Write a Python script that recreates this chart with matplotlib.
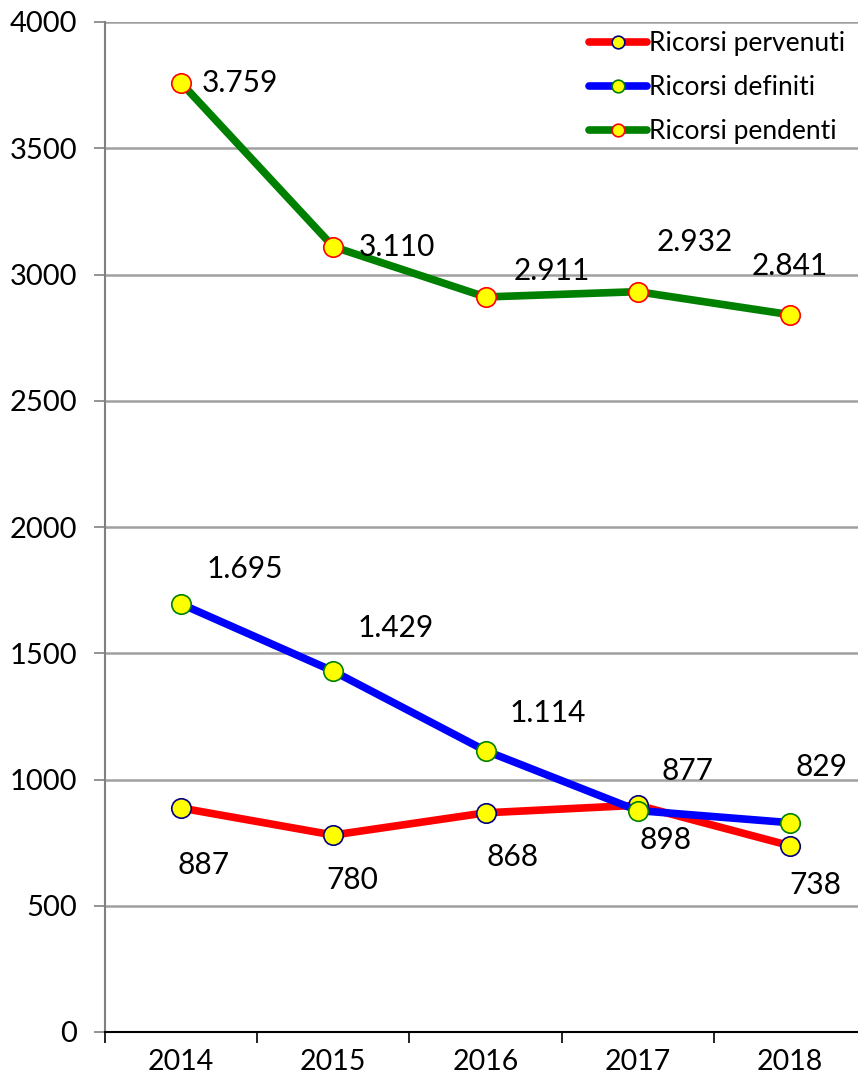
import matplotlib.pyplot as plt
import numpy as np

years = ["2014", "2015", "2016", "2017", "2018"]
pervenuti = [887, 780, 868, 898, 738]
definiti = [1695, 1429, 1114, 877, 829]
pendenti = [3759, 3110, 2911, 2932, 2841]

# label offsets in pixels (dx right, dy down) relative to each marker
off_pervenuti = [(22, 57), (19, 45), (27, 44), (28, 35), (25, 39)]
off_definiti = [(64, -35), (62, -43), (62, -38), (50, -40), (32, -56)]
off_pendenti = [(59, 0), (64, 0), (66, -26), (57, -50), (0, -49)]


def it_fmt(v):
    return f"{v:,}".replace(",", ".")


def main() -> None:
    plt.rcParams["font.family"] = ["Lato", "DejaVu Sans"]
    fig = plt.figure(figsize=(8.58, 10.89), dpi=100)
    ax = fig.add_axes([105 / 858, 1 - 1032 / 1089, 761 / 858, 1010 / 1089])

    x = np.arange(len(years))
    series = [
        ("Ricorsi pervenuti", pervenuti, "#ff0000", "#000080", off_pervenuti),
        ("Ricorsi definiti", definiti, "#0000ff", "#008000", off_definiti),
        ("Ricorsi pendenti", pendenti, "#008000", "#ff0000", off_pendenti),
    ]
    for name, vals, col, edge, offs in series:
        ax.plot(x, vals, color=col, linewidth=5.5, marker="o", markersize=14,
                markerfacecolor="#ffff00", markeredgecolor=edge,
                markeredgewidth=1.2, label=name, zorder=3,
                solid_capstyle="round")
        for xi, v, (dx, dy) in zip(x, vals, offs):
            ax.annotate(it_fmt(v), (xi, v), xytext=(dx * 0.72, -dy * 0.72),
                        textcoords="offset points", ha="center", va="center",
                        fontsize=21.5, color="black", zorder=4)

    ax.set_xlim(-0.5, 4.5)
    ax.set_ylim(0, 4000)
    ax.set_yticks(np.arange(0, 4001, 500))
    ax.set_xticks(x)
    ax.set_xticklabels(years)
    ax.set_xticks(np.arange(-0.5, 4.6, 1), minor=True)
    ax.tick_params(axis="x", which="major", length=0, pad=12, labelsize=20.5)
    ax.tick_params(axis="x", which="minor", length=8, width=1.2,
                   direction="out", color="black")
    ax.tick_params(axis="y", length=8, width=1.2, color="#808080",
                   labelsize=21, pad=12)
    ax.grid(axis="y", color="#a0a0a0", linewidth=1.8)
    ax.set_axisbelow(True)
    for s in ["top", "right"]:
        ax.spines[s].set_visible(False)
    ax.spines["left"].set_color("#808080")
    ax.spines["left"].set_linewidth(1.5)
    ax.spines["bottom"].set_color("black")
    ax.spines["bottom"].set_linewidth(1.5)

    leg = ax.legend(loc="upper right", bbox_to_anchor=(858 / 858, 1 - 18 / 1089),
                    bbox_transform=fig.transFigure, frameon=False,
                    fontsize=19, handlelength=2.2, handletextpad=0.05,
                    markerscale=0.65, labelspacing=0.72, borderaxespad=0.1)
    leg.set_zorder(5)

    fig.savefig("out.png", dpi=100)
    plt.close(fig)


if __name__ == "__main__":
    main()
